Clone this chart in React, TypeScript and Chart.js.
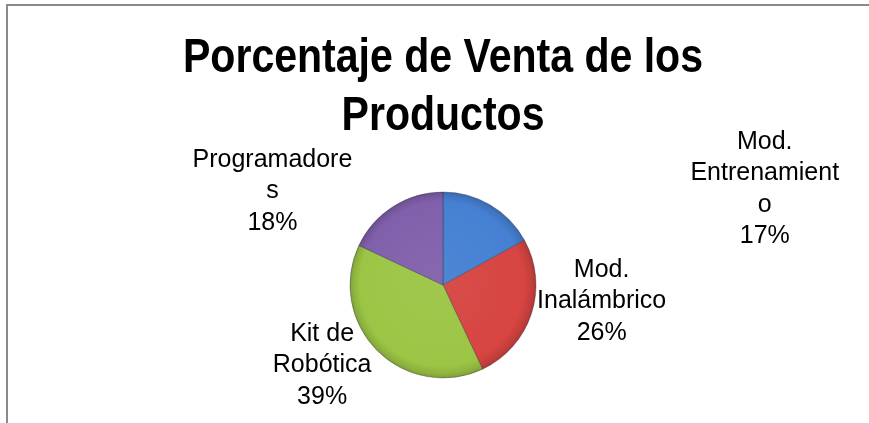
import React, { useEffect, useRef } from "react";
import { Chart, registerables } from "chart.js";

Chart.register(...registerables);

const titleLines = ["Porcentaje de Venta de los", "Productos"];
const categories = ["Mod. Entrenamiento", "Mod. Inalámbrico", "Kit de Robótica", "Programadores"];
const percentages = [17, 26, 39, 18];
// Category names as Excel wrapped them in the data labels
const wrappedNames = [
  ["Mod.", "Entrenamient", "o"],
  ["Mod.", "Inalámbrico"],
  ["Kit de", "Robótica"],
  ["Programadore", "s"],
];

const sliceColors = ["#4580d2", "#d64541", "#9cc545", "#8160ab"];
// label block centre offsets, in units of the pie radius, from the pie centre
const labelOffsets = [
  [3.46, -1.03],
  [1.706, 0.176],
  [-1.3, 0.866],
  [-1.834, -1.005],
];

function shade(hex: string, f: number): string {
  const n = parseInt(hex.slice(1), 16);
  const r = (n >> 16) & 255, g = (n >> 8) & 255, b = n & 255;
  const adj = (c: number) => Math.round(f >= 0 ? c + (255 - c) * f : c * (1 + f));
  return `rgb(${adj(r)},${adj(g)},${adj(b)})`;
}

// Condensed bold title (narrow face emulated by horizontal compression)
const titlePlugin = {
  id: "narrowTitle",
  afterDraw(chart: any) {
    const ctx = chart.ctx;
    const ca = chart.chartArea;
    const cx = (ca.left + ca.right) / 2;
    const baselines = [72, 130];
    ctx.save();
    ctx.font = "bold 48px 'Liberation Sans', Arial, sans-serif";
    ctx.fillStyle = "#000";
    ctx.textAlign = "center";
    ctx.textBaseline = "alphabetic";
    titleLines.forEach((t, i) => {
      ctx.save();
      ctx.translate(cx, baselines[i]);
      ctx.scale(0.855, 1);
      ctx.fillText(t, 0, 0);
      ctx.restore();
    });
    ctx.restore();
  },
};

const labelPlugin = {
  id: "excelLabels",
  afterDatasetsDraw(chart: any) {
    const ctx = chart.ctx;
    const meta = chart.getDatasetMeta(0);
    const values = chart.data.datasets[0].data as number[];
    ctx.save();
    ctx.font = "25px 'Liberation Sans', Arial, sans-serif";
    ctx.fillStyle = "#000";
    ctx.textAlign = "center";
    ctx.textBaseline = "middle";
    const lh = 31.5;
    meta.data.forEach((arc: any, i: number) => {
      const { x, y, outerRadius } = arc.getProps(["x", "y", "outerRadius"], true);
      const lines = [...wrappedNames[i], `${values[i]}%`];
      const cx = x + labelOffsets[i][0] * outerRadius;
      const cy = y + labelOffsets[i][1] * outerRadius;
      lines.forEach((t, k) => {
        ctx.fillText(t, cx, cy + (k - (lines.length - 1) / 2) * lh);
      });
    });
    ctx.restore();
  },
};

export default function App() {
  const ref = useRef<HTMLCanvasElement | null>(null);
  useEffect(() => {
    if (!ref.current) return;
    const chart = new Chart(ref.current, {
      type: "pie",
      data: {
        labels: categories,
        datasets: [
          {
            data: percentages,
            backgroundColor: (c: any) => {
              const base = sliceColors[c.dataIndex % sliceColors.length];
              const ca = c.chart.chartArea;
              if (!ca) return base;
              const cx = (ca.left + ca.right) / 2;
              const cy = (ca.top + ca.bottom) / 2;
              const r = Math.min(ca.right - ca.left, ca.bottom - ca.top) / 2;
              const g = c.chart.ctx.createRadialGradient(cx - r * 0.1, cy - r * 0.1, 0, cx, cy, r);
              g.addColorStop(0, shade(base, 0.05));
              g.addColorStop(0.88, base);
              g.addColorStop(0.96, shade(base, -0.1));
              g.addColorStop(1, shade(base, -0.22));
              return g;
            },
            borderColor: "rgba(40,40,60,0.35)",
            borderWidth: 1,
          },
        ],
      },
      options: {
        responsive: false,
        animation: false,
        layout: { padding: { left: 17, right: 0, top: 191.5, bottom: 44.5 } },
        plugins: {
          legend: { display: false },
          tooltip: { enabled: false },
          title: { display: false },
        },
      },
      plugins: [labelPlugin, titlePlugin],
    });
    return () => chart.destroy();
  }, []);

  return (
    <div style={{ position: "fixed", left: 0, top: 0, width: 869, height: 423, background: "#fff", overflow: "hidden" }}>
      <div
        style={{
          position: "absolute",
          left: 6,
          top: 4,
          right: -10,
          bottom: -10,
          borderTop: "2px solid #8a8a8a",
          borderLeft: "2px solid #8a8a8a",
        }}
      />
      <canvas ref={ref} width={869} height={423} style={{ position: "absolute", left: 0, top: 0 }} />
    </div>
  );
}
